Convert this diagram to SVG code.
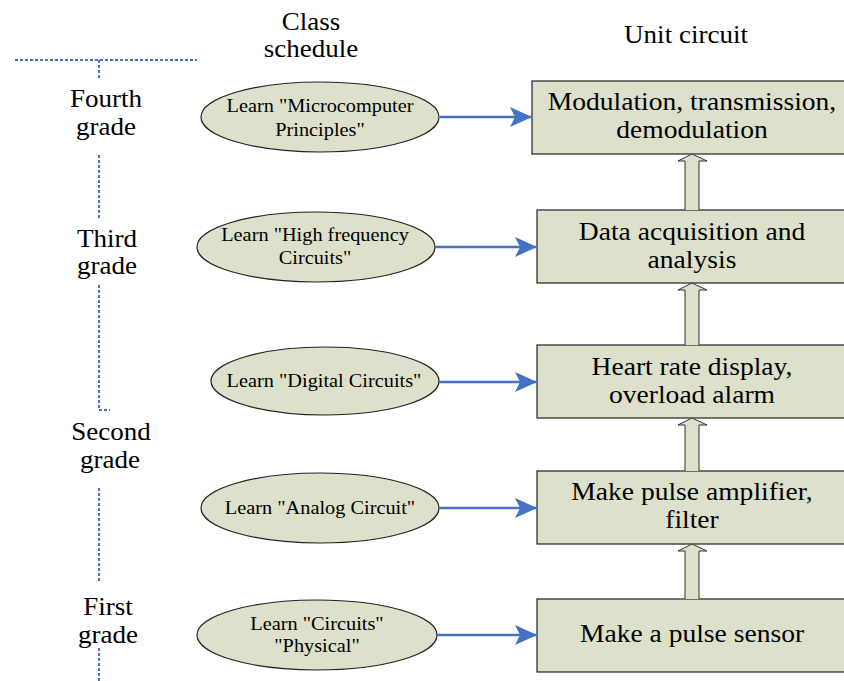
<svg xmlns="http://www.w3.org/2000/svg" width="844" height="681" viewBox="0 0 844 681">
<defs>
<style>
text{font-family:"Liberation Serif","Times New Roman",serif;fill:#000;text-anchor:middle}
.hdr{font-size:25.5px}
.box{font-size:26px}
.ell{font-size:19px}
.shape{fill:#DDE0CB;stroke:#222;stroke-width:1.2}
.dot{fill:none;stroke:#4472C4;stroke-width:2;stroke-dasharray:3 2}
.conn{fill:none;stroke:#4472C4;stroke-width:2.5}
.up{fill:#DDE0CB;stroke:#333;stroke-width:1}
</style>
<marker id="ah" markerUnits="userSpaceOnUse" markerWidth="22" markerHeight="20" refX="22" refY="10" orient="auto">
<path d="M0,0 L22,10 L0,20 L5,10 Z" fill="#4472C4"/>
</marker>
</defs>
<rect width="844" height="681" fill="#fff"/>

<g id="headers">
<text class="hdr" transform="translate(311 30) scale(1.06 1)">Class</text>
<text class="hdr" transform="translate(311 57) scale(1.06 1)">schedule</text>
<text class="hdr" transform="translate(686 43) scale(1.06 1)">Unit circuit</text>
</g>

<g id="timeline">
<path class="dot" d="M15,60 H197 M99,60 V79 M99,155 V218 M99,285 V410 H110 M99,488 V583 M99,648 V681"/>
<text class="hdr" transform="translate(106 107) scale(1.06 1)">Fourth</text>
<text class="hdr" transform="translate(106 135) scale(1.06 1)">grade</text>
<text class="hdr" transform="translate(107 247) scale(1.06 1)">Third</text>
<text class="hdr" transform="translate(107 274) scale(1.06 1)">grade</text>
<text class="hdr" transform="translate(111 440) scale(1.06 1)">Second</text>
<text class="hdr" transform="translate(110 468) scale(1.06 1)">grade</text>
<text class="hdr" transform="translate(108 615) scale(1.06 1)">First</text>
<text class="hdr" transform="translate(108 643) scale(1.06 1)">grade</text>
</g>

<g id="course4">
<ellipse class="shape" cx="320" cy="117" rx="119" ry="35"/>
<text class="ell" transform="translate(320 112) scale(1.07 1)">Learn "Microcomputer</text>
<text class="ell" transform="translate(320 136) scale(1.07 1)">Principles"</text>
</g>
<g id="course3">
<ellipse class="shape" cx="316" cy="247" rx="119" ry="35"/>
<text class="ell" transform="translate(315 241) scale(1.07 1)">Learn "High frequency</text>
<text class="ell" transform="translate(315 264) scale(1.07 1)">Circuits"</text>
</g>
<g id="course2">
<ellipse class="shape" cx="325" cy="381" rx="114" ry="34"/>
<text class="ell" transform="translate(324 387) scale(1.07 1)">Learn "Digital Circuits"</text>
</g>
<g id="course1">
<ellipse class="shape" cx="320" cy="508" rx="119" ry="35"/>
<text class="ell" transform="translate(320 514) scale(1.07 1)">Learn "Analog Circuit"</text>
</g>
<g id="course0">
<ellipse class="shape" cx="317" cy="635" rx="120" ry="35"/>
<text class="ell" transform="translate(317 630) scale(1.07 1)">Learn "Circuits"</text>
<text class="ell" transform="translate(317 652) scale(1.07 1)">"Physical"</text>
</g>

<g id="unit5">
<rect class="shape" x="532" y="81" width="330" height="73"/>
<text class="box" transform="translate(692 110) scale(1.06 1)">Modulation, transmission,</text>
<text class="box" transform="translate(692 138) scale(1.06 1)">demodulation</text>
</g>
<g id="unit4">
<rect class="shape" x="537" y="210" width="330" height="73"/>
<text class="box" transform="translate(692 240) scale(1.06 1)">Data acquisition and</text>
<text class="box" transform="translate(692 268) scale(1.06 1)">analysis</text>
</g>
<g id="unit3">
<rect class="shape" x="537" y="345" width="330" height="73"/>
<text class="box" transform="translate(692 375) scale(1.06 1)">Heart rate display,</text>
<text class="box" transform="translate(692 403) scale(1.06 1)">overload alarm</text>
</g>
<g id="unit2">
<rect class="shape" x="537" y="471" width="330" height="73"/>
<text class="box" transform="translate(692 500) scale(1.06 1)">Make pulse amplifier,</text>
<text class="box" transform="translate(692 528) scale(1.06 1)">filter</text>
</g>
<g id="unit1">
<rect class="shape" x="537" y="599" width="330" height="73"/>
<text class="box" transform="translate(692 642) scale(1.06 1)">Make a pulse sensor</text>
</g>

<g id="connectors">
<line class="conn" x1="440" y1="117" x2="532" y2="117" marker-end="url(#ah)"/>
<line class="conn" x1="435" y1="247" x2="537" y2="247" marker-end="url(#ah)"/>
<line class="conn" x1="439" y1="382" x2="537" y2="382" marker-end="url(#ah)"/>
<line class="conn" x1="439" y1="508" x2="537" y2="508" marker-end="url(#ah)"/>
<line class="conn" x1="437" y1="635" x2="537" y2="635" marker-end="url(#ah)"/>
<path class="up" d="M685,210 V161 H678 L692,154 L707,161 H699 V210"/>
<path class="up" d="M685,345 V290 H678 L692,283 L707,290 H699 V345"/>
<path class="up" d="M685,471 V425 H678 L692,418 L707,425 H699 V471"/>
<path class="up" d="M685,599 V551 H678 L692,544 L707,551 H699 V599"/>
</g>
</svg>
